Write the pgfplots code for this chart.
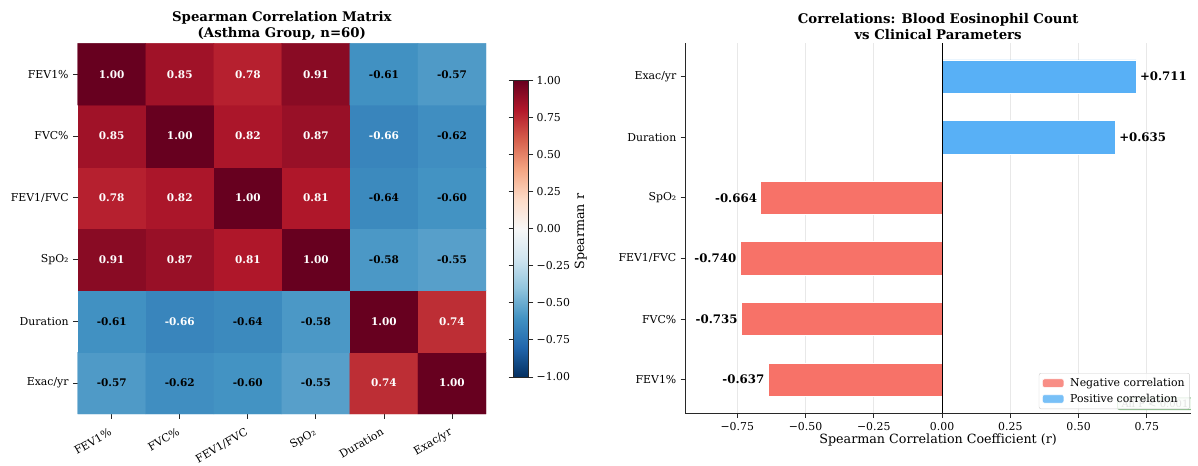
\documentclass[border=0pt]{standalone}
\usepackage{pgfplots}
\pgfplotsset{compat=1.18}
\usepackage{pgfplotstable}
\usepackage{fontspec}
\setmainfont{DejaVu Serif}
\definecolor{negred}{RGB}{247,114,104}
\definecolor{posblue}{RGB}{88,176,246}
\definecolor{spine}{RGB}{40,40,40}
\newcommand{\tickfont}{\fontsize{10.9}{13}\selectfont}
\newcommand{\labfont}{\fontsize{12.7}{15}\selectfont}
\newcommand{\titfont}{\fontsize{13.3}{16.3}\selectfont\bfseries}
\newcommand{\cellfont}{\fontsize{10.5}{12}\selectfont\bfseries}
\newcommand{\barfont}{\fontsize{11.8}{14}\selectfont\bfseries}
\newcommand{\legfont}{\fontsize{10.9}{13}\selectfont}

% heatmap values: x = column, y = row (0 = Exac/yr at bottom, 5 = FEV1% at top)
\pgfplotstableread{
x y c
0 0 -0.57
1 0 -0.62
2 0 -0.60
3 0 -0.55
4 0 0.74
5 0 1.00
0 1 -0.61
1 1 -0.66
2 1 -0.64
3 1 -0.58
4 1 1.00
5 1 0.74
0 2 0.91
1 2 0.87
2 2 0.81
3 2 1.00
4 2 -0.58
5 2 -0.55
0 3 0.78
1 3 0.82
2 3 1.00
3 3 0.81
4 3 -0.64
5 3 -0.60
0 4 0.85
1 4 1.00
2 4 0.82
3 4 0.87
4 4 -0.66
5 4 -0.62
0 5 1.00
1 5 0.85
2 5 0.78
3 5 0.91
4 5 -0.61
5 5 -0.57
}\heat

\pgfplotstableread{
x y t
4 0 0.74
5 0 1.00
1 1 -0.66
4 1 1.00
5 1 0.74
0 2 0.91
1 2 0.87
2 2 0.81
3 2 1.00
0 3 0.78
1 3 0.82
2 3 1.00
3 3 0.81
0 4 0.85
1 4 1.00
2 4 0.82
3 4 0.87
4 4 -0.66
0 5 1.00
1 5 0.85
2 5 0.78
3 5 0.91
}\whitelab

\pgfplotstableread{
x y t
0 0 -0.57
1 0 -0.62
2 0 -0.60
3 0 -0.55
0 1 -0.61
2 1 -0.64
3 1 -0.58
4 2 -0.58
5 2 -0.55
4 3 -0.64
5 3 -0.60
5 4 -0.62
4 5 -0.61
5 5 -0.57
}\blacklab

\pgfplotstableread{
x y t
-0.637 0 -0.637
-0.735 1 -0.735
-0.740 2 -0.740
-0.664 3 -0.664
}\negbars

\pgfplotstableread{
x y t
0.635 4 +0.635
0.711 5 +0.711
}\posbars

\begin{document}
\begin{tikzpicture}[x=1pt,y=1pt]
\path (0,0) rectangle (1198,-457);

\begin{axis}[
  at={(77.7pt,-43.3pt)}, anchor=north west,
  width=408.3pt, height=370.7pt, scale only axis,
  xmin=-0.5, xmax=5.5, ymin=-0.5, ymax=5.5,
  colormap={rdbu}{rgb255=(5,48,97) rgb255=(33,102,172) rgb255=(67,147,195) rgb255=(146,197,222) rgb255=(209,229,240) rgb255=(247,247,247) rgb255=(253,219,199) rgb255=(244,165,130) rgb255=(214,96,77) rgb255=(178,24,43) rgb255=(103,0,31)},
  point meta min=-1, point meta max=1,
  axis line style={draw=none},
  tick align=outside, major tick length=4.9pt,
  tick style={spine, line width=0.8pt},
  tick pos=left,
  xtick={0,1,2,3,4,5}, ytick={0,1,2,3,4,5},
  xticklabels={FEV1\%, FVC\%, FEV1/FVC, SpO₂, Duration, Exac/yr},
  yticklabels={Exac/yr, Duration, SpO₂, FEV1/FVC, FVC\%, FEV1\%},
  xticklabel style={rotate=30, anchor=north east, font=\tickfont, inner sep=1pt, xshift=-6pt, yshift=-4.5pt},
  yticklabel style={font=\tickfont, inner sep=1pt, xshift=-3pt},
  title={Spearman Correlation Matrix\\(Asthma Group, n=60)},
  title style={at={(0.5,1)}, anchor=south, yshift=-3pt, align=center, font=\titfont, inner sep=0pt},
  colorbar,
  colorbar style={
    at={(parent axis.east)}, anchor=west, xshift=19pt,
    width=15pt, height=296.6pt, scale only axis,
    ytick={-1,-0.75,-0.5,-0.25,0,0.25,0.5,0.75,1},
    yticklabels={−1.00,−0.75,−0.50,−0.25,0.00,0.25,0.50,0.75,1.00},
    yticklabel style={font=\tickfont, inner sep=1pt, xshift=2pt},
    ylabel={Spearman r}, ylabel style={font=\labfont, xshift=-3pt},
    tick align=outside, major tick length=4.9pt,
    tick style={spine, line width=0.8pt},
    axis line style={spine, line width=0.6pt},
  },
]
\addplot[matrix plot*, mesh/cols=6, point meta=explicit] table[x=x, y=y, meta=c] {\heat};
\addplot[only marks, mark=*, mark size=0pt, forget plot,
  nodes near coords, point meta=explicit symbolic,
  every node near coord/.append style={anchor=center, font=\cellfont, text=white}]
  table[x=x, y=y, meta=t] {\whitelab};
\addplot[only marks, mark=*, mark size=0pt, forget plot,
  nodes near coords, point meta=explicit symbolic,
  every node near coord/.append style={anchor=center, font=\cellfont, text=black}]
  table[x=x, y=y, meta=t] {\blacklab};
\end{axis}

\begin{axis}[
  at={(685.4pt,-43.3pt)}, anchor=north west,
  width=505.4pt, height=369.7pt, scale only axis,
  xmin=-0.94, xmax=0.911, ymin=-0.55, ymax=5.55,
  axis x line*=bottom, axis y line*=left,
  axis line style={spine, line width=0.8pt},
  tick align=outside, major tick length=4.9pt,
  tick style={spine, line width=0.8pt},
  xtick={-0.75,-0.5,-0.25,0,0.25,0.5,0.75},
  xticklabels={−0.75,−0.50,−0.25,0.00,0.25,0.50,0.75},
  ytick={0,1,2,3,4,5},
  yticklabels={FEV1\%, FVC\%, FEV1/FVC, SpO₂, Duration, Exac/yr},
  xticklabel style={font=\tickfont, inner sep=1pt, yshift=-3pt},
  yticklabel style={font=\tickfont, inner sep=1pt, xshift=-3pt},
  xmajorgrids, grid style={black!9, line width=0.8pt},
  xlabel={Spearman Correlation Coefficient (r)},
  xlabel style={font=\labfont, inner sep=0pt, yshift=-2pt},
  title={Correlations: Blood Eosinophil Count\\vs Clinical Parameters},
  title style={at={(0.5,1)}, anchor=south, yshift=-3pt, align=center, font=\titfont, inner sep=0pt},
  legend style={at={(1,0)}, anchor=south east, xshift=-1pt, yshift=4pt,
    draw=black!20, fill=white, fill opacity=0.8, text opacity=1, rounded corners=2pt,
    font=\legfont, inner xsep=3pt, inner ysep=3pt, row sep=2pt, column sep=4pt},
  legend cell align=left,
  legend image code/.code={\fill[#1] (0pt,-4.2pt) rectangle (21.6pt,4.2pt);},
]
\addplot[xbar, bar width=0.55, bar shift=0pt, fill=negred, draw=white, line width=0.6pt,
  nodes near coords, point meta=explicit symbolic,
  every node near coord/.append style={anchor=east, font=\barfont, text=black, inner sep=1pt, xshift=-2.5pt}]
  table[x=x, y=y, meta=t] {\negbars};
\addlegendentry{Negative correlation}
\addplot[xbar, bar width=0.55, bar shift=0pt, fill=posblue, draw=white, line width=0.6pt,
  nodes near coords, point meta=explicit symbolic,
  every node near coord/.append style={anchor=west, font=\barfont, text=black, inner sep=1pt, xshift=2.5pt}]
  table[x=x, y=y, meta=t] {\posbars};
\addlegendentry{Positive correlation}
\draw[black, line width=0.8pt] (axis cs:0,-0.55) -- (axis cs:0,5.55);
\node[anchor=south east, draw={rgb,255:red,140;green,190;blue,140}, fill={rgb,255:red,236;green,246;blue,236},
  rounded corners=2pt, text=black!55, font=\fontsize{10}{12}\selectfont, inner xsep=4pt, inner ysep=2pt,
  line width=0.8pt] at ([xshift=2pt,yshift=3pt]rel axis cs:1,0) {All P < 0.001};
\end{axis}
\end{tikzpicture}
\end{document}
